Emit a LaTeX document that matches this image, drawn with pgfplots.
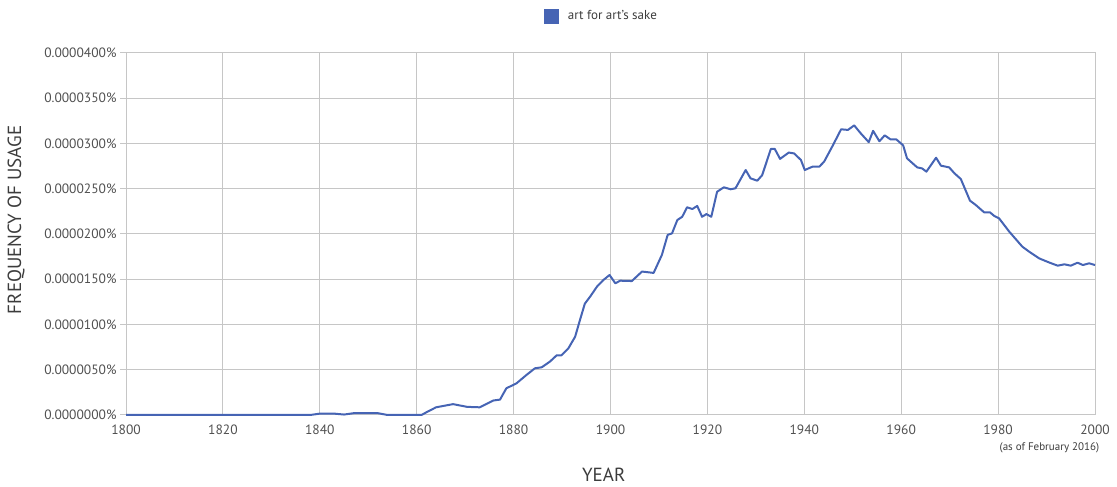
\documentclass[border=0pt]{standalone}
\usepackage{pgfplots}
\pgfplotsset{compat=1.18}
\usepackage{fontspec}
\setmainfont{PT Sans}
\definecolor{ngblue}{RGB}{70,100,180}
\definecolor{ticktxt}{RGB}{80,80,80}
\definecolor{labtxt}{RGB}{60,60,60}
\definecolor{gridc}{RGB}{198,198,198}
\begin{document}
\begin{tikzpicture}
\useasboundingbox (0,0) rectangle (1117pt,487pt);
\begin{axis}[
  at={(126pt,72pt)}, anchor=south west,
  scale only axis, width=969pt, height=362pt,
  xmin=1800, xmax=2000, ymin=0, ymax=400,
  xtick={1800,1820,...,2000},
  xticklabels={1800,1820,1840,1860,1880,1900,1920,1940,1960,1980,2000},
  ytick={0,50,...,400},
  yticklabels={0.0000000\%,0.0000050\%,0.0000100\%,0.0000150\%,0.0000200\%,0.0000250\%,0.0000300\%,0.0000350\%,0.0000400\%},
  grid=major,
  major grid style={gridc, line width=1pt},
  axis line style={gridc, line width=1pt},
  tick align=outside, ytick pos=left, xtick pos=bottom,
  xtick style={draw=none},
  ytick style={gridc, line width=1pt},
  major tick length=6pt,
  tick label style={font=\fontsize{13.5}{15}\selectfont, text=ticktxt},
  clip=false,
  every axis y label/.style={at={(axis description cs:-0.1135,0.539)}, anchor=center, rotate=90, font=\fontsize{19}{22}\selectfont, text=labtxt},
  every axis x label/.style={at={(axis description cs:0.493,-0.166)}, anchor=center, font=\fontsize{19}{22}\selectfont, text=labtxt},
  ylabel={FREQUENCY OF USAGE},
  xlabel={YEAR},
  legend style={at={(axis description cs:0.4906,1.102)}, anchor=center, draw=none, fill=none, font=\fontsize{13}{15}\selectfont, text=labtxt},
  legend image code/.code={\path[draw=none,fill=none] (0pt,0pt) -- (22pt,0pt); \fill[draw=none] (0pt,-7.5pt) rectangle (15pt,7.5pt);},
]
\addplot[ngblue, line width=2pt, line join=round] coordinates {
(1800,0) (1838,0) (1840,1.5) (1843,1.5) (1845,0.5) (1847,2) (1852,2) (1854,0) (1861,0)
(1862,3) (1864,8.5) (1866,10.5) (1867.5,12) (1870.4,9) (1873,8.5) (1875.8,16) (1877.2,17)
(1878.5,29.5) (1880.6,35) (1882.6,44) (1884.4,51.6) (1885.8,52.7) (1887.5,59) (1888.9,66)
(1889.9,66) (1891.3,73.6) (1892.7,86.5) (1893.7,105) (1894.7,123) (1895.8,130.8) (1897.2,141.8)
(1898.5,149) (1899.8,154.7) (1901,145.5) (1902,148.4) (1904.4,148) (1906.5,158.5) (1908.9,157)
(1910.6,176.8) (1911.8,199) (1912.7,200.7) (1913.8,215.5) (1914.8,219) (1915.8,229.5) (1916.9,227.6)
(1917.9,231) (1918.9,219) (1919.8,222) (1920.8,219) (1922,246.7) (1923.4,251.6) (1924.8,249.4)
(1925.8,250.5) (1927.9,270.7) (1928.9,261.5) (1930.3,258.9) (1931.3,265) (1933.1,294) (1933.9,294)
(1935,283) (1936.8,290) (1937.9,289) (1939.3,281.8) (1940.1,270.7) (1941.7,274.4) (1943.1,274.4)
(1944.1,280) (1945.9,298) (1947.6,315.7) (1949,315) (1950.3,320) (1951.6,311.5) (1953.3,301.5)
(1954.2,314) (1955.5,302.5) (1956.6,309) (1957.8,304.5) (1959,304.5) (1960.4,298) (1961.2,283.6)
(1963.3,273.6) (1964.3,272.5) (1965.2,268.9) (1967.2,284.3) (1968.2,275.5) (1969.9,273.6) (1971,267)
(1972.3,260.8) (1974.2,236.8) (1975.4,232) (1977.1,224) (1978.3,224) (1979.2,220) (1980.2,217.3)
(1982.3,202.6) (1985,186) (1986.4,180.5) (1988.5,173) (1990.5,168.6) (1992.3,165) (1993.7,166.5)
(1995,165) (1996.4,168.3) (1997.5,165.7) (1998.8,167.6) (2000,165.7)
};
\addlegendentry{art for art's sake}
\node[anchor=east, font=\fontsize{11}{13}\selectfont, text=labtxt] at (axis description cs:1.008,-0.091) {(as of February 2016)};
\end{axis}
\end{tikzpicture}
\end{document}
